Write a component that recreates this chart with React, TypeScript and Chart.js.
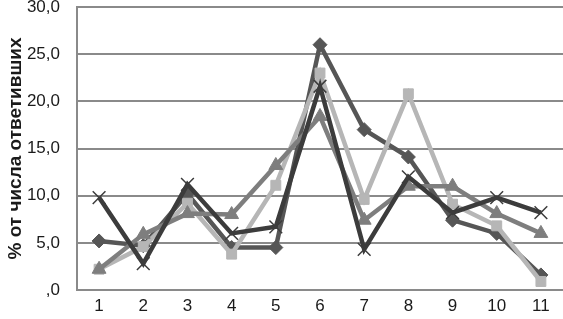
import React, { useEffect, useRef } from "react";
import { Chart, registerables } from "chart.js";

Chart.register(...registerables);

const categories = ["1", "2", "3", "4", "5", "6", "7", "8", "9", "10", "11"];
const seriesDiamond = [5.2, 4.7, 10.2, 4.5, 4.5, 26.0, 17.0, 14.1, 7.4, 6.0, 1.6];
const seriesSquare = [2.2, 4.6, 9.2, 3.8, 11.1, 23.0, 9.6, 20.8, 9.1, 6.8, 0.9];
const seriesTriangle = [2.2, 5.9, 8.1, 8.0, 13.2, 18.4, 7.4, 11.0, 11.0, 8.1, 6.0];
const seriesCross = [9.8, 2.8, 11.2, 6.0, 6.7, 21.6, 4.3, 12.0, 8.2, 9.8, 8.2];
const yTickLabels = [",0", "5,0", "10,0", "15,0", "20,0", "25,0", "30,0"];

export default function App() {
  const ref = useRef<HTMLCanvasElement | null>(null);

  useEffect(() => {
    document.body.style.margin = "0";
    const canvas = ref.current;
    if (!canvas) return;
    const mk = (data: number[], color: string, style: any, radius: number, order: number, bw = 1) => ({
      data,
      borderColor: color,
      backgroundColor: color,
      pointBackgroundColor: color,
      pointBorderColor: color,
      pointStyle: style,
      pointRadius: radius,
      pointBorderWidth: bw,
      borderWidth: 4.5,
      tension: 0,
      order,
    });
    const chart = new Chart(canvas, {
      type: "line",
      data: {
        labels: categories,
        datasets: [
          mk(seriesDiamond, "#565656", "rectRot", 7, 3),
          mk(seriesSquare, "#b6b6b6", "rect", 7, 2),
          mk(seriesTriangle, "#7e7e7e", "triangle", 8, 1),
          mk(seriesCross, "#3c3c3c", "crossRot", 9, 0, 1.5),
        ],
      },
      options: {
        responsive: false,
        animation: false,
        maintainAspectRatio: false,
        layout: { autoPadding: false, padding: { top: 0, right: 0, bottom: 0, left: 0 } },
        plugins: { legend: { display: false }, tooltip: { enabled: false } },
        scales: {
          x: {
            offset: true,
            afterFit: (s: any) => {
              s.height = 29;
              s.paddingLeft = 0;
              s.paddingRight = 0;
            },
            grid: { display: false, drawTicks: false },
            border: { color: "#8a8a8a", width: 2 },
            ticks: {
              color: "#1a1a1a",
              font: { family: "'Liberation Sans', Arial, sans-serif", size: 17, lineHeight: 1.0 },
              padding: 8,
              maxRotation: 0,
            },
          },
          y: {
            min: 0,
            max: 30,
            afterFit: (s: any) => {
              s.width = 77;
              s.paddingTop = 7;
              s.paddingBottom = 0;
            },
            grid: { color: "#8a8a8a", lineWidth: 2, drawTicks: false },
            border: { color: "#8a8a8a", width: 2 },
            ticks: {
              stepSize: 5,
              color: "#1a1a1a",
              padding: 17,
              font: { family: "'Liberation Sans', Arial, sans-serif", size: 17, lineHeight: 0.85 },
              callback: (_v: any, i: number) => yTickLabels[i],
            },
            title: {
              display: true,
              text: "% от числа ответивших",
              color: "#1a1a1a",
              font: { family: "'Liberation Sans', Arial, sans-serif", size: 19, weight: "bold" },
              padding: { top: 4, bottom: 0 },
            },
          },
        },
      },
    });
    return () => chart.destroy();
  }, []);

  return (
    <div style={{ width: 563, height: 319 }}>
      <canvas ref={ref} width={563} height={319} style={{ display: "block" }} />
    </div>
  );
}
